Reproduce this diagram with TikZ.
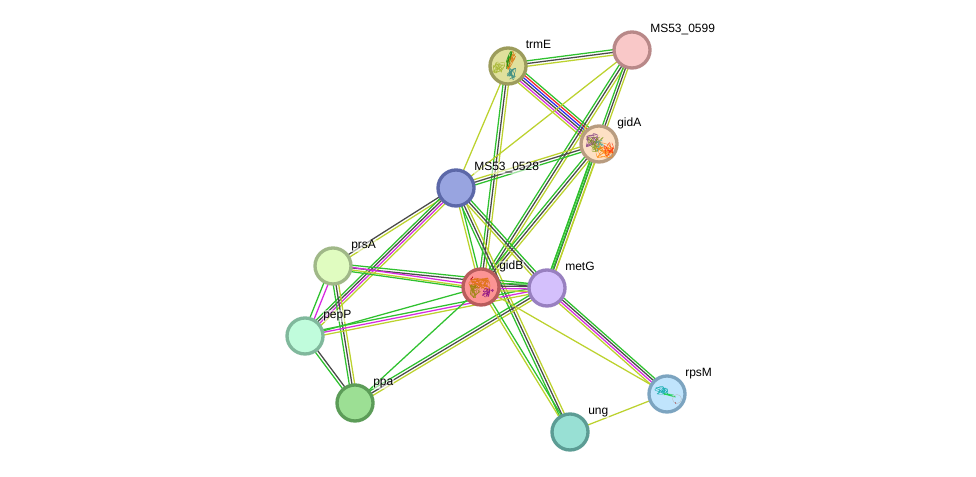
\documentclass[tikz,border=0pt]{standalone}
\usepackage{fontspec}
\setmainfont{Liberation Sans}
\usetikzlibrary{calc,backgrounds}
\definecolor{lgreen}{HTML}{2FC12F}
\definecolor{ldark}{HTML}{4A4A4A}
\definecolor{lolive}{HTML}{BCD22E}
\definecolor{lmag}{HTML}{D62CE0}
\definecolor{lblue}{HTML}{2A2AF0}
\definecolor{lred}{HTML}{F02A2A}
\definecolor{ftrmE}{HTML}{E0E09C}\definecolor{dtrmE}{HTML}{9C9C5C}
\definecolor{fnine}{HTML}{F9C8C8}\definecolor{dnine}{HTML}{B88888}
\definecolor{fgidA}{HTML}{FDE0C4}\definecolor{dgidA}{HTML}{B89C80}
\definecolor{feight}{HTML}{98A4E0}\definecolor{deight}{HTML}{5C68A8}
\definecolor{fgidB}{HTML}{FC9494}\definecolor{dgidB}{HTML}{B85C5C}
\definecolor{fmetG}{HTML}{D4C0FC}\definecolor{dmetG}{HTML}{9880C0}
\definecolor{fprsA}{HTML}{E0FCC0}\definecolor{dprsA}{HTML}{A0B888}
\definecolor{fpepP}{HTML}{C0FCDC}\definecolor{dpepP}{HTML}{80B89C}
\definecolor{fppa}{HTML}{9CDF94}\definecolor{dppa}{HTML}{5C9C58}
\definecolor{fung}{HTML}{98E0D4}\definecolor{dung}{HTML}{5C9C94}
\definecolor{frpsM}{HTML}{C0E4FC}\definecolor{drpsM}{HTML}{7CA4C0}
\tikzset{
  protein/.style n args={2}{circle,minimum size=27pt,inner sep=0pt,line width=2.5pt,fill=#1,draw=#2},
  plabel/.style={font=\fontsize{9}{10}\selectfont,text=black,inner sep=0.4pt,fill=white,fill opacity=0.55,text opacity=1,anchor=base west},
  link/.style={line width=0.95pt},
  fold/.style={line width=0.32pt,line join=round,opacity=0.8}
}
% A bundle of parallel evidence lines between two nodes: each list item is offset/colour.
\newcommand{\bundle}[3]{%
  \foreach \o/\c in {#3}{%
    \draw[link,color=\c] ($(#1.center)!\o*0.75pt!90:(#2.center)$) -- ($(#2.center)!\o*0.75pt!-90:(#1.center)$);
  }}
% A tangle of chain inside an ellipse: colour, centre x, centre y, radii x and y, turn, samples.
\newcommand{\tangle}[7]{%
  \begin{scope}[shift={(#2,#3)},rotate=#6]
  \draw[fold,color=#1] plot[smooth,samples=#7,domain=0:1,variable=\t] ({#4*rand},{#5*rand});
  \end{scope}}
\pgfmathsetseed{4217}
\begin{document}
\begin{tikzpicture}[x=0.75pt,y=-0.75pt]
\useasboundingbox (0,0) rectangle (976,477);

% Proteins
\node[protein={ftrmE}{dtrmE}] (trmE) at (508,66) {};
\node[protein={fnine}{dnine}] (nine) at (632,50) {};
\node[protein={fgidA}{dgidA}] (gidA) at (599,144) {};
\node[protein={feight}{deight}] (eight) at (456,188) {};
\node[protein={fgidB}{dgidB}] (gidB) at (481,287) {};
\node[protein={fmetG}{dmetG}] (metG) at (547,288) {};
\node[protein={fprsA}{dprsA}] (prsA) at (333,266) {};
\node[protein={fpepP}{dpepP}] (pepP) at (305,336) {};
\node[protein={fppa}{dppa}] (ppa) at (355,403) {};
\node[protein={fung}{dung}] (ung) at (570,432) {};
\node[protein={frpsM}{drpsM}] (rpsM) at (667,394) {};

% Evidence links, kept behind the proteins
\begin{scope}[on background layer]
\bundle{trmE}{nine}{2.7/lgreen,0/ldark,-2.7/lolive}
\bundle{trmE}{gidA}{6/lgreen,3.6/lred,1.2/lblue,-1.2/ldark,-3.6/lmag,-6/lolive}
\bundle{trmE}{eight}{0/lolive}
\bundle{gidB}{trmE}{2.7/lgreen,0/ldark,-2.7/lolive}
\bundle{nine}{eight}{0/lolive}
\bundle{gidB}{nine}{2.7/lgreen,0/ldark,-2.7/lolive}
\bundle{metG}{nine}{2.4/lgreen,0/ldark,-2.4/lolive}
\bundle{gidB}{gidA}{2.7/lgreen,0/ldark,-2.7/lolive}
\bundle{metG}{gidA}{2.4/lgreen,0.8/lgreen,-2.4/lolive}
\bundle{eight}{gidA}{2.7/lolive,0/ldark,-2.7/lgreen}
\bundle{eight}{gidB}{1.4/lgreen,-1.4/lolive}
\bundle{eight}{metG}{2.7/lgreen,0/ldark,-2.7/lolive}
\bundle{eight}{ung}{2.7/lolive,0/ldark,-2.7/lgreen}
\bundle{prsA}{eight}{1.4/ldark,-1.4/lolive}
\bundle{pepP}{eight}{3.6/lgreen,1.2/ldark,-1.2/lmag,-3.6/lolive}
\bundle{prsA}{metG}{2.7/lgreen,0/ldark}
\bundle{prsA}{gidB}{1.3/lmag,-1.3/lolive,-3/lgreen}
\bundle{pepP}{prsA}{2.2/lgreen,-2.2/lmag}
\bundle{ppa}{prsA}{2.7/lgreen,0/ldark,-2.7/lolive}
\bundle{pepP}{ppa}{1.4/ldark,-1.4/lgreen}
\bundle{pepP}{gidB}{0/lgreen}
\bundle{pepP}{metG}{2.7/lgreen,0/lmag,-2.7/lolive}
\bundle{ppa}{gidB}{0/lgreen}
\bundle{ppa}{metG}{2.7/lgreen,0/ldark,-2.7/lolive}
\bundle{gidB}{metG}{3.6/lgreen,1.2/ldark,-1.2/lmag,-3.6/lolive}
\bundle{metG}{rpsM}{3.6/lgreen,1.2/ldark,-1.2/lmag,-3.6/lolive}
\bundle{gidB}{rpsM}{0/lolive}
\bundle{gidB}{ung}{1.4/lgreen,-1.4/lolive}
\bundle{ung}{rpsM}{0/lolive}
\end{scope}

% Folded chains drawn inside the proteins with known structures
\begin{scope}[shift={(trmE.center)}]
\tangle{lolive!85!black}{-9}{2}{6}{6}{0}{30}
\tangle{orange!85!black}{3}{-6}{10}{3}{65}{22}
\tangle{green!55!black}{1}{-6}{9}{2.5}{65}{12}
\tangle{teal!75!gray}{4}{8}{4.5}{6}{0}{24}
\end{scope}
\begin{scope}[shift={(gidA.center)}]
\tangle{violet!55!gray}{-7}{-4}{7}{7}{0}{30}
\tangle{olive!70!green}{-3}{0}{9}{8}{0}{26}
\tangle{teal!70}{0}{1}{6}{6}{0}{12}
\tangle{orange}{6}{6}{9}{8}{0}{30}
\tangle{red!70!orange}{10}{5}{5}{7}{0}{14}
\end{scope}
\begin{scope}[shift={(gidB.center)}]
\tangle{orange!85!black}{-2}{-3}{10}{7}{0}{36}
\tangle{olive}{-6}{4}{5.5}{7}{0}{24}
\tangle{red!70!black}{-9}{-9}{2}{1.5}{0}{6}
\tangle{violet}{5}{5}{4}{5.5}{0}{18}
\tangle{violet}{11}{4}{1.8}{1.8}{0}{8}
\end{scope}
\begin{scope}[shift={(rpsM.center)}]
\tangle{teal!70!cyan}{-6}{-4}{7}{4.5}{0}{24}
\tangle{green!60!teal}{2}{1}{7}{1.4}{-10}{10}
\draw[fold,color=gray!55] (10,5) circle (4.5);
\draw[fold,color=red!60!black] (8,8) -- (9,10);
\end{scope}

% Protein names
\node[plabel] (ltrmE) at (525,49) {trmE};
\node[plabel] (lnine) at (649.5,33) {MS53\_0599};
\node[plabel] (lgidA) at (616.5,127) {gidA};
\node[plabel] (leight) at (473.5,171) {MS53\_0528};
\node[plabel] (lgidB) at (498.5,270) {gidB};
\node[plabel] (lmetG) at (564.5,271) {metG};
\node[plabel] (lprsA) at (350.5,249) {prsA};
\node[plabel] (lpepP) at (322.5,319) {pepP};
\node[plabel] (lppa) at (372.5,386) {ppa};
\node[plabel] (lung) at (587.5,415) {ung};
\node[plabel] (lrpsM) at (684.5,377) {rpsM};
\end{tikzpicture}
\end{document}
